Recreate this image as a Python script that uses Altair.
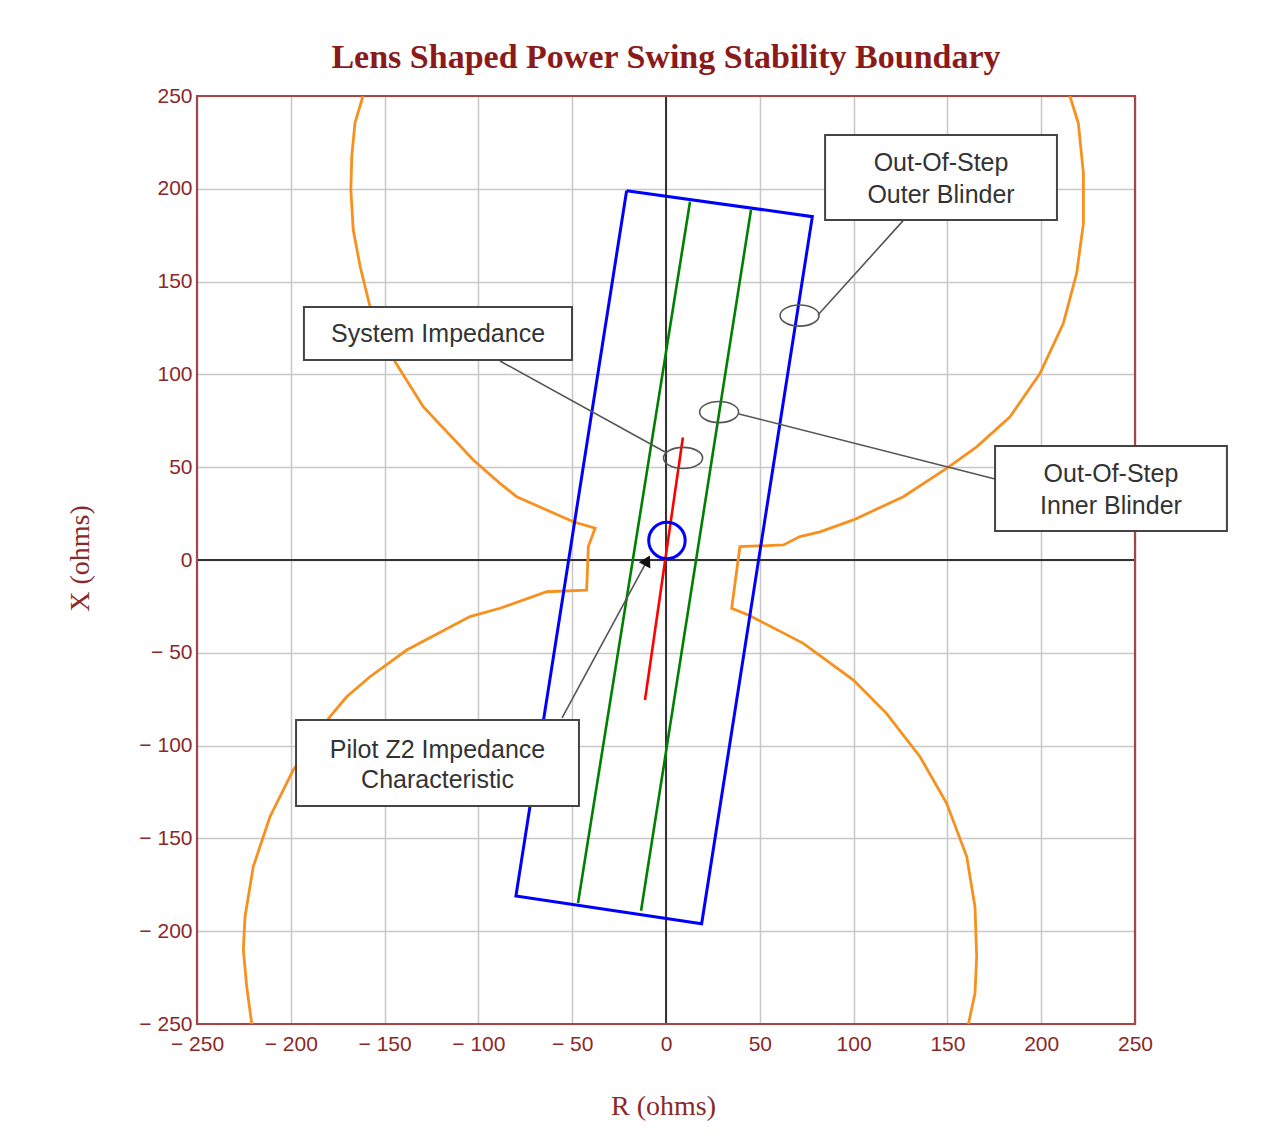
import altair as alt
import pandas as pd

# ---------------- data (ohms) ----------------
# Lens shaped stability boundary, left half (top -> jog -> bottom)
lens_left_R = [-161.5, -165.8, -167.5, -168.0, -166.7, -163.0, -157.8, -144.5, -129.4,
               -102.7, -88.5, -79.6, -49.4, -37.8, -41.4, -42.3, -63.6, -88.5, -104.5,
               -138.2, -157.8, -170.2, -179.1, -198.7, -211.1, -220.0, -224.4, -225.3,
               -223.5, -220.8]
lens_left_X = [250.0, 235.5, 217.3, 199.4, 177.8, 158.0, 136.5, 106.9, 82.6,
               53.9, 41.3, 34.1, 20.6, 17.1, 7.2, -16.2, -17.1, -26.0, -30.5,
               -48.5, -62.9, -73.7, -84.4, -113.1, -138.3, -165.2, -192.2, -210.1,
               -229.9, -250.0]
# right half
lens_right_R = [215.3, 219.8, 222.5, 222.5, 218.9, 211.8, 199.4, 183.4, 165.6, 149.6,
                126.5, 99.9, 82.1, 71.4, 62.6, 39.4, 35.0, 43.9, 73.2, 99.9, 117.5,
                135.4, 149.6, 160.3, 164.7, 165.6, 164.7, 161.2]
lens_right_X = [250.0, 235.3, 208.4, 181.4, 154.5, 127.5, 100.6, 77.2, 61.0, 49.4,
                34.1, 21.6, 15.2, 12.6, 8.1, 7.2, -26.0, -29.6, -44.9, -64.7, -82.6,
                -106.0, -131.1, -159.8, -186.8, -213.7, -233.5, -250.0]

# Out-of-step outer blinder (closed rectangle)
outer_R = [-21.0, 78.0, 19.0, -80.0, -21.0]
outer_X = [199.0, 185.0, -196.0, -181.0, 199.0]

# Out-of-step inner blinders
inner_a_R = [12.8, -46.9]
inner_a_X = [193.0, -184.8]
inner_b_R = [45.3, -13.3]
inner_b_X = [188.6, -189.0]

# System impedance
sys_R = [-11.2, 9.0]
sys_X = [-75.4, 66.0]

# Pilot Z2 characteristic centre
z2_R = [0.5]
z2_X = [10.5]

# callout leader lines
call_R1 = [126.3, 38.9, -88.5, -55.4]
call_X1 = [182.7, 78.7, 107.2, -85.1]
call_R2 = [81.0, 175.4, -0.5, -10.0]
call_X2 = [132.0, 43.6, 58.2, -0.2]

# callout ellipses (centres)
ell_R = [71.2, 28.3, 9.1]
ell_X = [131.7, 79.7, 55.0]

# arrow head
arrow_R = [-10.0]
arrow_X = [-0.2]

# label boxes
box_R1 = [84.8, 175.4, -193.0, -197.2]
box_R2 = [208.4, 299.0, -50.1, -46.4]
box_X1 = [229.0, 61.4, 136.3, -86.2]
box_X2 = [183.2, 15.6, 107.8, -132.5]

# label text lines
lab_text = ["Out-Of-Step", "Outer Blinder", "Out-Of-Step", "Inner Blinder",
            "System Impedance", "Pilot Z2 Impedance", "Characteristic"]
lab_R = [146.6, 146.6, 237.2, 237.2, -121.5, -121.8, -121.8]
lab_X = [213.9, 196.7, 46.3, 29.1, 121.8, -102.4, -118.5]

# plot frame (axis limits)
frame_R = [-250.0, 250.0]
frame_X = [-250.0, 250.0]

tick_vals = [-250, -200, -150, -100, -50, 0, 50, 100, 150, 200, 250]

# ---------------- chart ----------------
MAROON = "#8B2828"
dom = [-250, 250]
xs = alt.Scale(domain=dom, nice=False, zero=False)
ys = alt.Scale(domain=dom, nice=False, zero=False)

lab_expr = "datum.value < 0 ? '\u2212 ' + abs(datum.value) : '' + datum.value"

common_axis = dict(values=tick_vals, labelExpr=lab_expr, grid=True,
                   gridColor="#c8c8c8", gridWidth=1.5, domain=False, ticks=False,
                   tickSize=0, labelFont="Liberation Sans", labelFontSize=21,
                   labelColor=MAROON, labelFlush=False, labelOverlap=False,
                   titleFont="Liberation Serif", titleFontSize=28,
                   titleFontWeight="normal", titleColor=MAROON,
                   titleBaseline="middle", titleAlign="center")
XAX = alt.Axis(labelPadding=9, titleX=466, titleY=82, **common_axis)
YAX = alt.Axis(labelPadding=5, titleX=-117, titleY=462, titleAngle=270, **common_axis)
XT = "R (ohms)"
YT = "X (ohms)"


def ex(field):
    return alt.X(field, type="quantitative", scale=xs, axis=XAX, title=XT)


def ey(field):
    return alt.Y(field, type="quantitative", scale=ys, axis=YAX, title=YT)


def path_df(R, X):
    return pd.DataFrame({"R": R, "X": X, "i": list(range(len(R)))})


def line_layer(R, X, color, width):
    return alt.Chart(path_df(R, X)).mark_line(color=color, strokeWidth=width).encode(
        x=ex("R"), y=ey("X"), order="i:Q")


zero_df = pd.DataFrame({"R": [0.0], "X": [0.0]})
vline = alt.Chart(zero_df).mark_rule(color="#333333", strokeWidth=2).encode(x=ex("R"))
hline = alt.Chart(zero_df).mark_rule(color="#333333", strokeWidth=2).encode(y=ey("X"))

frame = alt.Chart(pd.DataFrame({"R": [frame_R[0]], "R2": [frame_R[1]],
                                "X": [frame_X[0]], "X2": [frame_X[1]]})).mark_rect(
    fill=None, fillOpacity=0, stroke="#A04848", strokeWidth=2.2, clip=False
).encode(x=ex("R"), x2="R2:Q", y=ey("X"), y2="X2:Q")

ORANGE = "#F7901E"
lens_l = line_layer(lens_left_R, lens_left_X, ORANGE, 2.8)
lens_r = line_layer(lens_right_R, lens_right_X, ORANGE, 2.8)
outer = line_layer(outer_R, outer_X, "#0000FF", 3)
inner_a = line_layer(inner_a_R, inner_a_X, "#008000", 2.6)
inner_b = line_layer(inner_b_R, inner_b_X, "#008000", 2.6)
sysimp = line_layer(sys_R, sys_X, "#FF0000", 2.6)

z2 = alt.Chart(pd.DataFrame({"R": z2_R, "X": z2_X})).mark_point(
    shape="circle", filled=False, color="#0000FF", strokeWidth=3, size=1330, opacity=1
).encode(x=ex("R"), y=ey("X"))

calls = alt.Chart(pd.DataFrame({"R": call_R1, "X": call_X1, "R2": call_R2, "X2": call_X2})
                  ).mark_rule(color="#555555", strokeWidth=1.6).encode(
    x=ex("R"), y=ey("X"), x2="R2:Q", y2="X2:Q")

ELLIPSE = "M -1 0 A 1 0.54 0 1 1 1 0 A 1 0.54 0 1 1 -1 0 Z"
ells = alt.Chart(pd.DataFrame({"R": ell_R, "X": ell_X})).mark_point(
    shape=ELLIPSE, filled=False, color="#555555", strokeWidth=1.6, size=1521, opacity=1
).encode(x=ex("R"), y=ey("X"))

arrow = alt.Chart(pd.DataFrame({"R": arrow_R, "X": arrow_X})).mark_point(
    shape="triangle-up", filled=True, color="#111111", size=170, angle=28, opacity=1
).encode(x=ex("R"), y=ey("X"))

boxes = alt.Chart(pd.DataFrame({"R": box_R1, "R2": box_R2, "X": box_X1, "X2": box_X2})
                  ).mark_rect(fill="white", stroke="#444444", strokeWidth=2, clip=False).encode(
    x=ex("R"), x2="R2:Q", y=ey("X"), y2="X2:Q")

texts = alt.Chart(pd.DataFrame({"t": lab_text, "R": lab_R, "X": lab_X})).mark_text(
    font="Liberation Sans", fontSize=25, color="#333333", align="center",
    baseline="middle", clip=False
).encode(x=ex("R"), y=ey("X"), text="t:N")

chart = alt.layer(
    vline, hline, frame, lens_l, lens_r, outer, inner_a, inner_b, sysimp, z2,
    calls, ells, arrow, boxes, texts
).properties(
    width=938, height=928,
    background="white",
    title=alt.TitleParams("Lens Shaped Power Swing Stability Boundary",
                          font="Liberation Serif", fontSize=34, fontWeight="bold",
                          color="#8B1A1A", anchor="middle", frame="group", offset=10),
    autosize=alt.AutoSizeParams(type="none"),
    padding={"left": 189, "top": 88, "right": 140, "bottom": 110},
).configure_view(stroke=None)

chart.save("out.html", embed_options={"renderer": "svg", "actions": False})
